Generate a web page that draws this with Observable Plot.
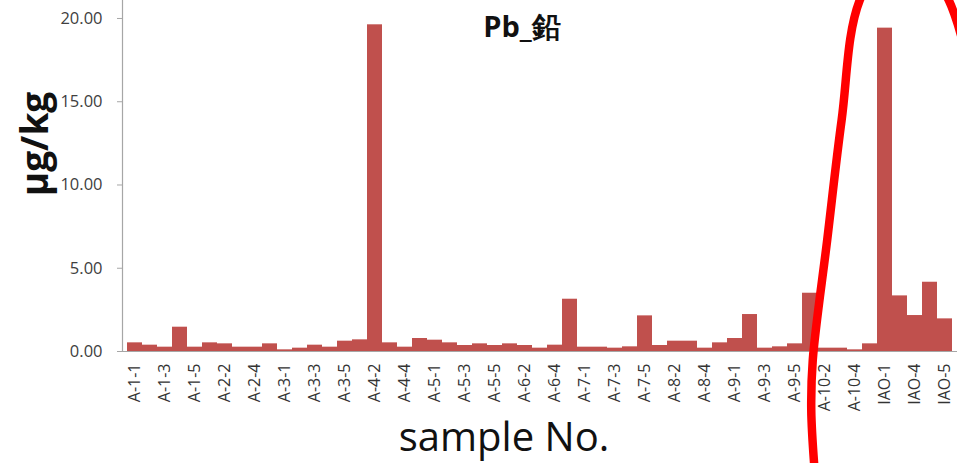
<!DOCTYPE html>
<html><head><meta charset="utf-8">
<script src="https://cdn.jsdelivr.net/npm/d3@7"></script>
<script src="https://cdn.jsdelivr.net/npm/@observablehq/plot@0.6"></script>
<style>html,body{margin:0;padding:0;background:#fff}#chart svg{display:block}</style>
</head><body><div id="chart"></div>
<script>
// sample IDs (category axis)
const samples = [
  "A-1-1","A-1-2","A-1-3","A-1-4","A-1-5",
  "A-2-1","A-2-2","A-2-3","A-2-4","A-2-5",
  "A-3-1","A-3-2","A-3-3","A-3-4","A-3-5",
  "A-4-1","A-4-2","A-4-3","A-4-4","A-4-5",
  "A-5-1","A-5-2","A-5-3","A-5-4","A-5-5",
  "A-6-1","A-6-2","A-6-3","A-6-4","A-6-5",
  "A-7-1","A-7-2","A-7-3","A-7-4","A-7-5",
  "A-8-1","A-8-2","A-8-3","A-8-4","A-8-5",
  "A-9-1","A-9-2","A-9-3","A-9-4","A-9-5",
  "A-10-1","A-10-2","A-10-3","A-10-4","A-10-5",
  "IAO-1","IAO-3","IAO-4","IAO-4b","IAO-5"
];
// Pb concentration (μg/kg)
const pb = [
  0.52,0.38,0.26,1.46,0.26,
  0.52,0.46,0.26,0.26,0.46,
  0.10,0.20,0.38,0.26,0.62,
  0.70,19.62,0.52,0.26,0.78,
  0.68,0.52,0.36,0.46,0.36,
  0.46,0.36,0.20,0.38,3.14,
  0.26,0.26,0.20,0.28,2.14,
  0.36,0.62,0.62,0.20,0.52,
  0.78,2.22,0.20,0.28,0.46,
  3.50,0.20,0.20,0.10,0.46,
  19.42,3.34,2.16,4.16,1.96
];
// every other category label is shown
const shownTicks = samples.filter((d, i) => i % 2 === 0);
const yTicks = [0, 5, 10, 15, 20];
const title = "Pb_鉛";
const yLabel = "μg/kg";
const xLabel = "sample No.";
// hand-drawn red annotation loop: x in band-index units, y in value units
const loopX = [45.62, 45.4, 45.5, 46.45, 47.4, 48.6, 51.55, 54.45, 55.69];
const loopY = [-7.15, -3.54, -0.54, 6.67, 13.87, 21.08, 25.0, 21.08, 17.48];

const chart = Plot.plot({
  width: 957,
  height: 463,
  marginLeft: 122,
  marginRight: 0,
  marginTop: 0,
  marginBottom: 112,
  style: {fontFamily: "Open Sans", fontSize: "15px", color: "#404040", background: "white"},
  x: {type: "band", domain: samples, padding: 0},
  y: {domain: [0, 21.08]},
  marks: [
    Plot.barY(pb, {x: samples, y: pb, fill: "#c0504d", inset: 0}),
    Plot.ruleY([0], {stroke: "#a6a6a6", strokeWidth: 1.2}),
    Plot.frame({anchor: "left", stroke: "#a6a6a6", strokeWidth: 1.2}),
    Plot.axisY({ticks: yTicks, tickFormat: d => d.toFixed(2), tickSize: 5, tickPadding: 15, label: null, stroke: "#a6a6a6", fill: "#404040", fontSize: 16.5}),
    Plot.axisX({ticks: shownTicks, tickRotate: -90, tickSize: 0, tickPadding: 12, label: null, fill: "#333", fontSize: 16}),
    Plot.text([title], {frameAnchor: "top", lineAnchor: "middle", dx: -18, dy: 27, fontSize: 29, fontWeight: "bold", fill: "#111"}),
    Plot.text([yLabel], {frameAnchor: "left", textAnchor: "middle", lineAnchor: "middle", rotate: -90, dx: -86, dy: -32, fontSize: 37, fontWeight: "bold", fill: "#111"}),
    Plot.text([xLabel], {frameAnchor: "bottom", lineAnchor: "middle", dx: -36, dy: 87, fontSize: 40, fill: "#111"}),
    (index, scales, values, dim) => {
      const bw = (dim.width - dim.marginLeft - dim.marginRight) / samples.length;
      const pts = loopX.map((v, i) => [dim.marginLeft + v * bw, scales.y(loopY[i])]);
      return d3.create("svg:path")
        .attr("d", d3.line().curve(d3.curveCatmullRom)(pts))
        .attr("fill", "none")
        .attr("stroke", "#ff0000")
        .attr("stroke-width", 8.5)
        .node();
    }
  ]
});
document.getElementById("chart").append(chart);
</script>
</body></html>
